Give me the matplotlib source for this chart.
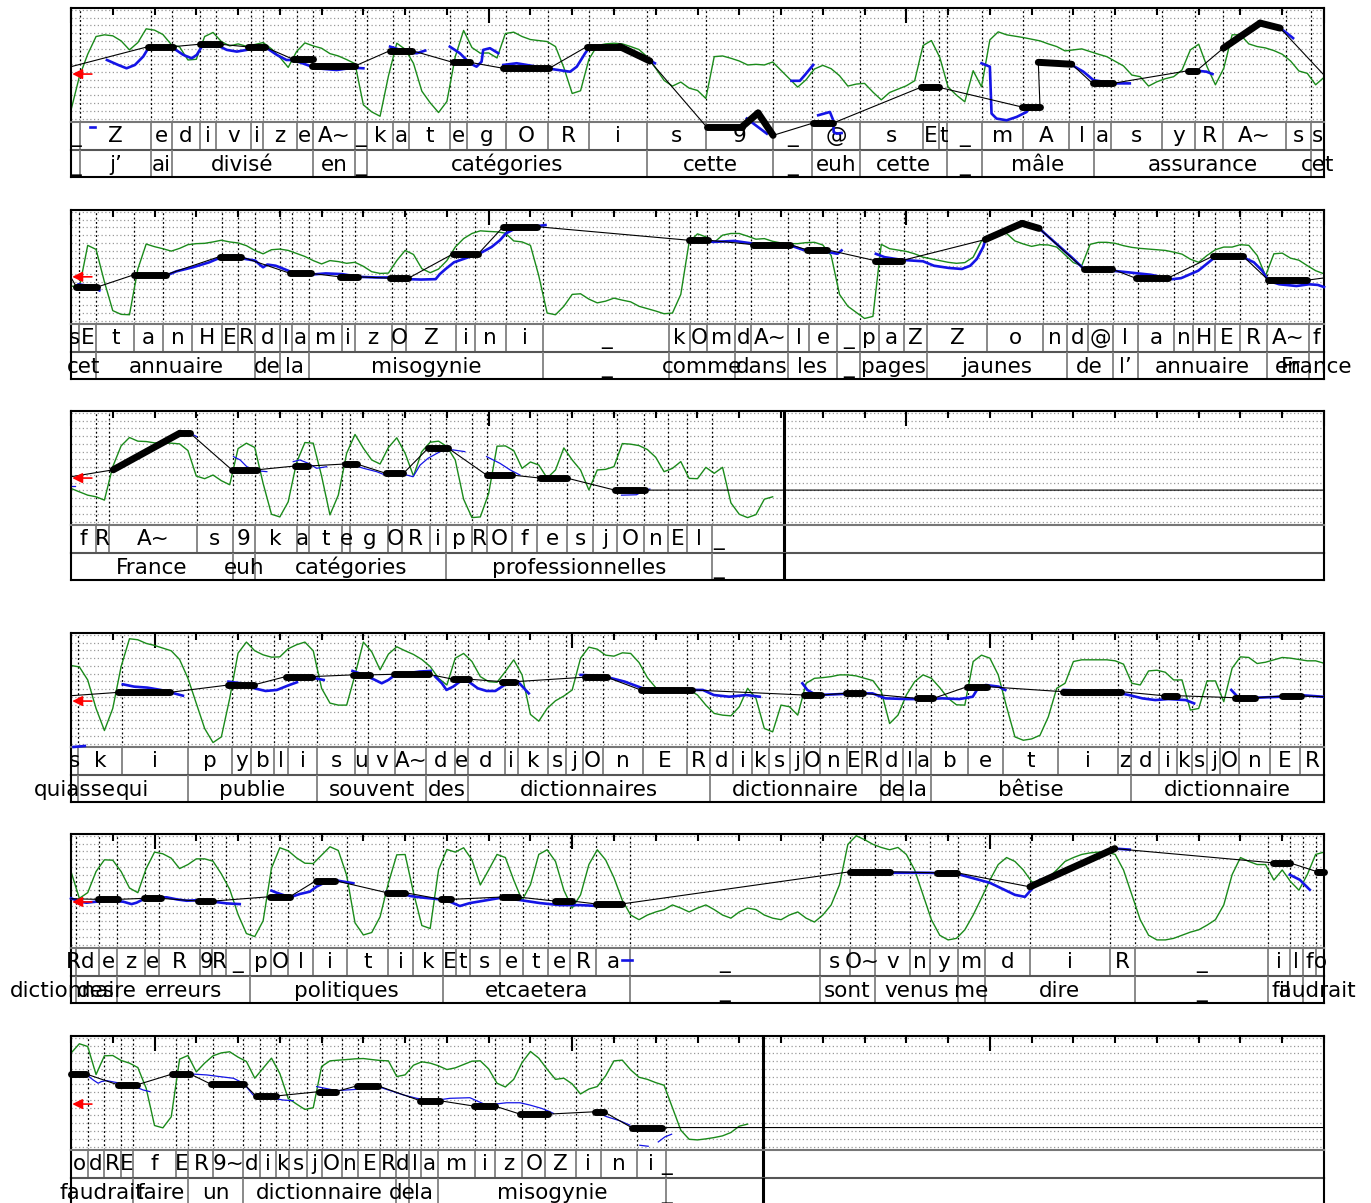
import numpy as np
import matplotlib
matplotlib.use("Agg")
import matplotlib.pyplot as plt
from matplotlib.ticker import MultipleLocator

plt.rcParams['font.family'] = ['DejaVu Sans']

# each line of the display covers 3 s; times below are seconds from the line start
line_start = [0.0, 3.0, 6.0, 7.8, 10.8, 13.8]
line_end = [3.0, 3.0, 1.707, 3.0, 3.0, 1.657]
arrow_level = [5.73, 5.63, 5.60, 5.47, 5.49, 5.47]
frame_step = 0.02   # intensity frames

# ---------------- line 1 ----------------
p1_phone_t = [0, 0.022, 0.191, 0.241, 0.309, 0.347, 0.430, 0.459, 0.540, 0.580, 0.680, 0.708, 0.772, 0.810,
              0.907, 0.949, 1.041, 1.141, 1.240, 1.380, 1.520, 1.680, 1.775, 1.889, 2.040, 2.079, 2.098, 2.180,
              2.280, 2.390, 2.450, 2.489, 2.611, 2.691, 2.759, 2.909, 2.970, 3.0]
p1_phone = ["_", "Z", "e", "d", "i", "v", "i", "z", "e", "A~", "_", "k", "a", "t", "e", "g", "O", "R", "i", "s",
            "9", "_", "@", "s", "E", "t", "_", "m", "A", "l", "a", "s", "y", "R", "A~", "s", "s"]
p1_word_t = [0, 0.022, 0.191, 0.241, 0.580, 0.680, 0.708, 1.380, 1.680, 1.775, 1.889, 2.098, 2.180, 2.450, 2.970, 3.0]
p1_word = ["_", "j’", "ai", "divisé", "en", "_", "catégories", "cette", "_", "euh", "cette", "_", "mâle",
           "assurance", "cet"]
p1_seg = [(0.185, 0.245, 9.26, 9.26), (0.309, 0.357, 9.57, 9.57), (0.424, 0.464, 9.22, 9.22),
          (0.532, 0.580, 7.63, 7.63), (0.576, 0.680, 6.77, 6.77), (0.764, 0.816, 8.75, 8.75),
          (0.914, 0.955, 7.24, 7.24), (1.035, 1.145, 6.47, 6.47), (1.235, 1.314, 9.26, 9.26),
          (1.314, 1.386, 9.26, 7.41), (1.522, 1.606, -1.09, -1.09), (1.606, 1.645, -1.09, 0.72),
          (1.645, 1.681, 0.72, -2.16), (1.777, 1.825, -0.57, -0.57), (2.034, 2.079, 4.01, 4.01),
          (2.276, 2.320, 1.50, 1.50), (2.316, 2.396, 7.24, 6.99), (2.446, 2.494, 4.53, 4.53),
          (2.675, 2.695, 6.16, 6.16), (2.759, 2.847, 9.06, 12.29), (2.847, 2.895, 12.29, 11.64)]
p1_ends = (6.68, 5.60)
p1_blue = [
    [(0.045, -1.09), (0.057, -1.09)],
    [(0.086, 7.54), (0.113, 6.90), (0.133, 6.47), (0.153, 6.90), (0.173, 7.99), (0.185, 9.06), (0.245, 9.06),
     (0.269, 8.19), (0.289, 7.76), (0.301, 8.19), (0.313, 9.26), (0.357, 9.26), (0.373, 8.84), (0.397, 8.62),
     (0.421, 8.84), (0.445, 9.26), (0.469, 9.06), (0.493, 8.19), (0.516, 7.54), (0.532, 7.54), (0.588, 6.47),
     (0.636, 6.25), (0.676, 6.55), (0.700, 6.47)],
    [(0.764, 9.26), (0.788, 8.84), (0.812, 8.49), (0.828, 8.41), (0.848, 8.75)],
    [(0.907, 9.26), (0.931, 8.41), (0.955, 7.12), (0.971, 6.68), (0.983, 7.32), (0.987, 8.84), (1.003, 9.06),
     (1.023, 8.41)],
    [(1.035, 6.90), (1.067, 7.12), (1.139, 6.47), (1.167, 6.25), (1.195, 6.03), (1.211, 6.68), (1.231, 8.41),
     (1.238, 8.93), (1.314, 9.26), (1.370, 7.99), (1.398, 7.12)],
    [(1.618, 0.0), (1.666, -1.94)],
    [(1.725, 4.86), (1.745, 4.86), (1.757, 5.60), (1.777, 6.90)],
    [(1.789, 0.43), (1.817, 0.85), (1.825, -0.22), (1.826, -1.73), (1.833, -1.94), (1.845, -1.86)],
    [(2.180, 7.12), (2.200, 6.68), (2.204, 0.65), (2.216, 0.0), (2.240, -0.22), (2.264, 0.21), (2.288, 0.85),
     (2.292, 1.29)],
    [(2.396, 6.90), (2.424, 6.03), (2.448, 4.95), (2.495, 4.53), (2.535, 4.53)],
    [(2.695, 6.16), (2.719, 6.03), (2.733, 5.73)],
    [(2.759, 9.06), (2.847, 12.29), (2.895, 11.64), (2.911, 11.00), (2.926, 10.35)],
]
p1_int = [1.08, 5.39, 8.28, 10.56, 10.78, 10.65, 10.0, 8.84, 9.78, 11.55, 11.38, 10.82, 9.53, 9.22, 7.54, 7.63,
          10.56, 11.08, 9.91, 9.35, 9.61, 9.31, 9.53, 9.78, 8.97, 7.89, 6.59, 8.62, 9.74, 9.35, 9.05, 8.36, 8.06,
          7.59, 7.07, 1.77, 0.86, 0.30, 5.47, 9.7, 8.92, 7.11, 3.53, 2.03, 0.78, 2.2, 7.97, 11.34, 9.14, 8.41,
          8.45, 7.8, 10.95, 11.12, 10.56, 10.17, 10.04, 9.91, 9.27, 6.55, 3.23, 3.58, 7.63, 9.4, 9.61, 9.7, 9.61,
          9.27, 8.88, 7.93, 6.47, 4.91, 4.18, 4.7, 3.92, 3.62, 2.59, 7.97, 8.06, 7.76, 7.41, 6.9, 6.98, 6.9, 7.28,
          6.21, 5.13, 4.05, 5.0, 6.38, 6.85, 6.42, 5.52, 4.18, 4.44, 4.53, 3.41, 2.41, 3.36, 3.79, 4.22, 4.87,
          9.4, 10.04, 7.89, 4.05, 3.02, 2.16, 6.16, 4.09, 10.13, 11.16, 10.78, 10.6, 10.43, 10.22, 10.0, 9.61,
          9.27, 8.71, 8.84, 8.97, 8.62, 8.28, 7.97, 7.37, 6.77, 5.6, 5.39, 4.18, 4.74, 5.13, 5.39, 6.25, 8.84,
          9.57, 6.68, 4.35, 6.47, 10.78, 10.78, 9.61, 9.27, 9.09, 8.75, 8.28, 7.41, 6.12, 5.82, 4.35, 5.3]

# ---------------- line 2 ----------------
p2_phone_t = [0, 0.018, 0.061, 0.151, 0.220, 0.290, 0.361, 0.401, 0.441, 0.500, 0.530, 0.570, 0.649, 0.679,
              0.768, 0.803, 0.922, 0.967, 1.041, 1.131, 1.432, 1.483, 1.523, 1.590, 1.629, 1.717, 1.768, 1.833,
              1.888, 1.935, 1.994, 2.050, 2.194, 2.328, 2.384, 2.436, 2.494, 2.554, 2.641, 2.687, 2.738, 2.798,
              2.864, 2.964, 3.0]
p2_phone = ["s", "E", "t", "a", "n", "H", "E", "R", "d", "l", "a", "m", "i", "z", "O", "Z", "i", "n", "i", "_",
            "k", "O", "m", "d", "A~", "l", "e", "_", "p", "a", "Z", "Z", "o", "n", "d", "@", "l", "a", "n", "H",
            "E", "R", "A~", "f"]
p2_word_t = [0, 0.061, 0.441, 0.500, 0.570, 1.131, 1.432, 1.590, 1.717, 1.833, 1.888, 2.050, 2.384, 2.494,
             2.554, 2.864, 2.964, 3.0]
p2_word = ["cet", "annuaire", "de", "la", "misogynie", "_", "comme", "dans", "les", "_", "pages", "jaunes", "de",
           "l’", "annuaire", "en", "France"]
p2_seg = [(0.013, 0.063, 4.32, 4.32), (0.151, 0.227, 5.90, 5.90), (0.356, 0.406, 8.24, 8.24),
          (0.525, 0.575, 6.07, 6.07), (0.644, 0.687, 5.63, 5.63), (0.763, 0.808, 5.46, 5.46),
          (0.915, 0.975, 8.59, 8.59), (1.035, 1.116, 12.08, 12.08), (1.479, 1.526, 10.34, 10.34),
          (1.634, 1.722, 9.77, 9.77), (1.761, 1.809, 9.12, 9.12), (1.925, 1.989, 7.72, 7.72),
          (2.189, 2.277, 10.43, 12.51), (2.277, 2.318, 12.51, 11.86), (2.425, 2.492, 6.64, 6.64),
          (2.549, 2.626, 5.46, 5.46), (2.734, 2.806, 8.29, 8.29), (2.867, 2.960, 5.20, 5.20)]
p2_ends = (5.55, 5.49)
p2_blue = [
    [(0.018, 4.67), (0.043, 4.45), (0.068, 3.89)],
    [(0.227, 5.76), (0.252, 6.33), (0.292, 6.86), (0.331, 7.50), (0.356, 8.07), (0.391, 8.37), (0.416, 7.94),
     (0.441, 7.72), (0.455, 7.06), (0.460, 6.86), (0.470, 7.21), (0.490, 7.06), (0.510, 6.64), (0.530, 6.20),
     (0.570, 5.90), (0.610, 6.07), (0.649, 5.98), (0.689, 5.63), (0.729, 5.55), (0.768, 5.55), (0.808, 5.33),
     (0.838, 5.28), (0.873, 5.33), (0.883, 5.98), (0.897, 6.64), (0.917, 7.50), (0.952, 8.16), (0.977, 8.59),
     (1.007, 9.47), (1.027, 10.34), (1.041, 11.20), (1.056, 11.64), (1.076, 12.08), (1.116, 12.16),
     (1.136, 12.29)],
    [(1.506, 10.43), (1.537, 10.12), (1.588, 10.25), (1.634, 9.90), (1.722, 9.68), (1.752, 9.12), (1.814, 8.81),
     (1.835, 8.59), (1.845, 9.03)],
    [(1.927, 8.59), (1.948, 8.16), (1.989, 7.81), (2.040, 7.63), (2.066, 7.06), (2.102, 6.77), (2.133, 6.64),
     (2.153, 7.06), (2.169, 7.94), (2.184, 9.47), (2.189, 10.34)],
    [(2.318, 11.86), (2.359, 9.90), (2.400, 7.94), (2.425, 6.64), (2.492, 6.42), (2.533, 6.20), (2.585, 5.90),
     (2.637, 5.33), (2.658, 5.46), (2.699, 6.42), (2.734, 7.94), (2.806, 8.16), (2.832, 7.50), (2.852, 6.42),
     (2.867, 5.11), (2.893, 4.67), (2.934, 4.45), (2.964, 4.67), (2.985, 4.59), (3.0, 4.32)],
]
p2_int = [4.46, 4.24, 9.68, 9.16, 4.98, 1.28, 0.8, 0.75, 6.63, 9.85, 9.51, 9.25, 8.94, 9.29, 9.77, 9.9, 9.94,
          10.12, 10.34, 10.12, 9.99, 9.64, 9.03, 8.59, 9.12, 9.2, 9.03, 8.64, 8.25, 7.72, 7.29, 7.72, 7.59, 7.37,
          7.5, 6.98, 6.29, 6.07, 6.11, 7.72, 9.03, 8.51, 6.68, 6.16, 6.63, 7.72, 9.46, 10.55, 11.21, 11.55, 11.47,
          11.42, 11.25, 10.25, 10.12, 9.68, 5.76, 0.97, 0.75, 1.84, 3.37, 3.45, 2.76, 2.28, 2.5, 2.89, 2.63, 2.41,
          1.84, 1.54, 1.23, 0.88, 0.97, 3.37, 10.12, 11.16, 10.77, 10.07, 10.99, 11.21, 11.21, 10.86, 10.47,
          10.55, 10.2, 9.99, 9.9, 9.9, 10.03, 10.07, 9.73, 8.38, 3.37, 1.84, 1.06, 0.27, 0.54, 9.81, 9.25, 9.07,
          8.9, 8.59, 8.16, 7.94, 7.72, 7.5, 7.37, 7.46, 8.16, 10.25, 10.9, 11.25, 11.21, 10.25, 9.86, 9.55, 9.77,
          9.73, 9.46, 8.46, 7.46, 7.07, 9.81, 10.07, 10.07, 9.94, 9.64, 9.42, 9.29, 9.2, 9.12, 9.03, 8.81, 8.55,
          7.9, 7.5, 8.38, 9.12, 9.46, 9.46, 9.77, 9.68, 8.38, 5.76, 8.59, 8.68, 8.03, 7.77, 7.07, 6.42, 6.02]

# ---------------- line 3 ----------------
p3_phone_t = [0, 0.059, 0.092, 0.301, 0.388, 0.440, 0.540, 0.570, 0.650, 0.669, 0.760, 0.792, 0.859, 0.899,
              0.959, 0.995, 1.055, 1.116, 1.188, 1.250, 1.308, 1.372, 1.430, 1.474, 1.534, 1.566]
p3_phone = ["f", "R", "A~", "s", "9", "k", "a", "t", "e", "g", "O", "R", "i", "p", "R", "O", "f", "e", "s", "j",
            "O", "n", "E", "l", "_"]
p3_word_t = [0, 0.388, 0.440, 0.899, 1.534, 1.566]
p3_word = ["France", "euh", "catégories", "professionnelles", "_"]
p3_seg = [(0.101, 0.261, 6.66, 11.38), (0.261, 0.285, 11.38, 11.38), (0.385, 0.445, 6.66, 6.66),
          (0.536, 0.568, 7.15, 7.15), (0.656, 0.684, 7.41, 7.41), (0.754, 0.796, 6.21, 6.21),
          (0.855, 0.903, 9.44, 9.44), (0.995, 1.055, 5.99, 5.99), (1.123, 1.187, 5.60, 5.60),
          (1.302, 1.374, 4.05, 4.05)]
p3_ends = (5.77, 4.05)
p3_blue = [
    [(0.002, 4.57), (0.010, 4.57)],
    [(0.285, 11.38), (0.301, 10.94)],
    [(0.389, 8.36), (0.405, 7.93), (0.421, 7.06), (0.445, 6.55), (0.469, 6.42)],
    [(0.532, 7.71), (0.548, 7.93), (0.568, 7.50), (0.588, 6.86), (0.612, 7.06)],
    [(0.676, 7.28), (0.700, 6.86), (0.732, 6.42), (0.752, 5.99), (0.772, 5.99), (0.804, 5.99), (0.819, 5.77),
     (0.836, 7.28), (0.855, 8.15), (0.891, 9.22), (0.915, 9.22), (0.943, 9.00)],
    [(0.995, 8.36), (1.027, 7.50), (1.051, 6.66), (1.075, 5.99)],
    [(1.318, 3.40), (1.354, 3.45), (1.374, 4.05), (1.386, 4.18)],
]
p3_int = [4.26, 3.83, 3.4, 3.19, 2.76, 7.07, 9.74, 10.82, 10.35, 10.3, 10.13, 10.09, 10.09, 10.0, 9.14, 5.86,
          5.52, 5.99, 5.26, 4.74, 9.39, 10.09, 9.53, 4.91, 0.94, 0.6, 2.54, 7.59, 10.17, 10.09, 5.86, 0.86, 3.4,
          8.79, 11.21, 9.44, 7.93, 7.41, 9.53, 10.78, 8.79, 5.86, 9.01, 10.21, 10.35, 9.66, 7.93, 2.88, 0.51, 0.6,
          3.62, 9.7, 9.74, 9.14, 6.85, 7.67, 7.28, 5.6, 6.64, 9.48, 7.93, 6.64, 4.06, 6.64, 6.72, 7.07, 10.04,
          9.96, 9.78, 9.27, 8.27, 6.42, 6.85, 7.72, 5.56, 5.52, 6.98, 6.21, 6.98, 2.41, 0.94, 0.51, 0.9, 2.88,
          3.19]

# ---------------- line 4 ----------------
p4_phone_t = [0, 0.017, 0.121, 0.279, 0.386, 0.431, 0.487, 0.520, 0.589, 0.680, 0.710, 0.776, 0.851, 0.920,
              0.950, 1.038, 1.070, 1.142, 1.185, 1.225, 1.273, 1.369, 1.476, 1.529, 1.586, 1.631, 1.671, 1.721,
              1.755, 1.794, 1.857, 1.893, 1.940, 1.992, 2.023, 2.060, 2.148, 2.231, 2.362, 2.507, 2.538, 2.606,
              2.648, 2.684, 2.721, 2.752, 2.796, 2.871, 2.942, 3.0]
p4_phone = ["s", "k", "i", "p", "y", "b", "l", "i", "s", "u", "v", "A~", "d", "e", "d", "i", "k", "s", "j", "O",
            "n", "E", "R", "d", "i", "k", "s", "j", "O", "n", "E", "R", "d", "l", "a", "b", "e", "t", "i", "z",
            "d", "i", "k", "s", "j", "O", "n", "E", "R"]
p4_word_t = [0, 0.017, 0.279, 0.589, 0.851, 0.950, 1.529, 1.940, 1.992, 2.060, 2.538, 3.0]
p4_word = ["quiasse", "qui", "publie", "souvent", "des", "dictionnaires", "dictionnaire", "de", "la", "bêtise",
           "dictionnaire"]
p4_seg = [(0.113, 0.236, 6.59, 6.59), (0.377, 0.437, 7.54, 7.54), (0.514, 0.578, 8.62, 8.62),
          (0.674, 0.715, 8.84, 8.84), (0.773, 0.856, 8.92, 8.92), (0.915, 0.954, 8.28, 8.28),
          (1.032, 1.064, 7.97, 7.97), (1.230, 1.283, 8.54, 8.54), (1.364, 1.487, 6.90, 6.90),
          (1.755, 1.796, 6.25, 6.25), (1.855, 1.896, 6.47, 6.47), (2.025, 2.065, 5.82, 5.82),
          (2.146, 2.192, 7.33, 7.33), (2.375, 2.514, 6.68, 6.68), (2.616, 2.648, 6.16, 6.16),
          (2.788, 2.835, 5.90, 5.90), (2.900, 2.944, 6.12, 6.12)]
p4_ends = (6.16, 6.03)
p4_blue = [
    [(0.006, -0.44), (0.033, -0.31)],
    [(0.124, 7.63), (0.151, 7.33), (0.183, 7.20), (0.215, 6.90), (0.247, 6.46), (0.268, 6.16)],
    [(0.377, 7.97), (0.407, 7.76), (0.439, 7.11), (0.466, 6.77), (0.493, 6.90), (0.519, 7.46), (0.541, 7.89)],
    [(0.583, 8.41), (0.605, 8.19)],
    [(0.674, 9.35), (0.701, 8.84), (0.728, 8.19), (0.744, 7.76), (0.760, 8.19), (0.776, 8.84), (0.835, 9.27),
     (0.861, 9.35)],
    [(0.872, 8.62), (0.888, 7.76), (0.899, 6.90), (0.915, 7.33), (0.931, 7.97), (0.952, 7.97), (0.974, 7.11),
     (0.995, 6.77), (1.016, 6.77), (1.038, 7.54), (1.070, 7.97), (1.096, 6.46)],
    [(1.220, 8.84), (1.252, 8.75), (1.294, 8.41), (1.326, 7.97), (1.369, 7.11), (1.433, 6.90), (1.482, 6.90),
     (1.513, 6.90), (1.539, 6.25), (1.576, 6.03), (1.617, 6.25), (1.649, 6.03)],
    [(1.751, 7.76), (1.763, 6.90), (1.784, 6.25), (1.826, 6.33), (1.877, 6.46), (1.919, 6.46), (1.950, 5.82),
     (2.002, 5.73), (2.044, 5.73), (2.086, 5.82), (2.127, 5.73), (2.159, 6.03), (2.169, 6.90), (2.190, 7.54),
     (2.221, 7.33), (2.237, 6.90)],
    [(2.377, 6.90), (2.440, 6.77), (2.512, 6.46), (2.533, 6.25), (2.565, 5.82), (2.596, 5.60), (2.627, 5.73),
     (2.669, 5.60), (2.689, 5.17)],
    [(2.778, 6.90), (2.793, 6.03), (2.835, 5.90), (2.897, 6.03), (2.939, 6.25), (2.997, 6.03)],
]
p4_int = [10.04, 9.87, 8.19, 4.52, 1.68, 4.52, 9.91, 13.49, 13.36, 12.89, 12.63, 12.28, 11.94, 10.82, 8.4, 5.17,
          1.94, 0.13, 0.86, 5.82, 11.64, 13.06, 11.94, 11.42, 11.12, 11.16, 12.2, 12.72, 13.06, 11.94, 7.11, 5.21,
          4.95, 4.95, 8.84, 13.06, 11.81, 9.49, 11.51, 12.46, 11.94, 11.47, 10.82, 9.91, 8.4, 7.54, 10.99, 11.6,
          10.56, 8.62, 7.97, 7.89, 9.27, 10.78, 8.84, 3.75, 2.88, 4.52, 5.51, 6.12, 6.9, 10.99, 12.41, 12.15,
          11.38, 11.25, 11.68, 11.6, 10.43, 8.49, 7.2, 6.9, 6.9, 6.9, 6.9, 6.25, 4.95, 3.88, 3.66, 3.57, 4.74,
          7.11, 5.82, 1.94, 1.51, 4.95, 4.74, 3.66, 7.76, 8.4, 8.49, 8.62, 8.84, 8.84, 8.71, 8.4, 8.1, 6.68, 2.58,
          3.66, 6.25, 7.97, 8.84, 8.4, 7.2, 5.82, 4.99, 4.95, 10.56, 11.38, 10.99, 8.84, 4.74, 0.86, 0.43, 0.6,
          1.07, 3.45, 7.11, 7.76, 10.56, 10.78, 10.78, 10.78, 10.78, 10.65, 10.22, 7.76, 7.54, 9.35, 9.44, 9.18,
          8.19, 8.19, 4.31, 4.52, 8.06, 8.06, 5.39, 9.7, 11.16, 11.08, 10.3, 10.47, 10.78, 11.08, 10.99, 10.82,
          10.65, 10.65, 10.34]

# ---------------- line 5 ----------------
p5_phone_t = [0, 0.012, 0.068, 0.109, 0.177, 0.211, 0.309, 0.338, 0.371, 0.428, 0.480, 0.520, 0.580, 0.660,
              0.760, 0.820, 0.890, 0.922, 0.955, 1.027, 1.082, 1.142, 1.195, 1.257, 1.338, 1.793, 1.865, 1.925,
              2.009, 2.057, 2.124, 2.188, 2.296, 2.487, 2.547, 2.866, 2.918, 2.949, 2.981, 3.0]
p5_phone = ["R", "d", "e", "z", "e", "R", "9", "R", "_", "p", "O", "l", "i", "t", "i", "k", "E", "t", "s", "e",
            "t", "e", "R", "a", "_", "s", "O~", "v", "n", "y", "m", "d", "i", "R", "_", "i", "l", "f", "o"]
p5_word_t = [0, 0.012, 0.109, 0.428, 0.890, 1.338, 1.793, 1.925, 2.124, 2.188, 2.547, 2.866, 2.949, 3.0]
p5_word = ["dictionnaire", "des", "erreurs", "politiques", "etcaetera", "_", "sont", "venus", "me", "dire", "_",
           "il", "faudrait"]
p5_seg = [(0.065, 0.113, 5.82, 5.82), (0.175, 0.215, 5.95, 5.95), (0.305, 0.341, 5.60, 5.60),
          (0.476, 0.524, 6.16, 6.16), (0.587, 0.632, 8.23, 8.23), (0.756, 0.800, 6.68, 6.68),
          (0.887, 0.911, 5.82, 5.82), (1.032, 1.070, 6.12, 6.12), (1.159, 1.200, 5.60, 5.60),
          (1.257, 1.319, 5.23, 5.23), (1.865, 1.961, 9.37, 9.37), (2.073, 2.121, 9.24, 9.24),
          (2.296, 2.499, 7.43, 12.35), (2.878, 2.918, 10.52, 10.52), (2.984, 3.0, 9.37, 9.37)]
p5_ends = (5.90, 9.37)
p5_blue = [
    [(0.0, 5.95), (0.022, 5.52), (0.037, 5.39), (0.061, 5.52), (0.093, 5.64), (0.125, 5.52), (0.145, 5.21),
     (0.157, 5.39), (0.173, 5.82), (0.205, 6.08), (0.229, 6.08), (0.253, 5.82), (0.277, 5.64), (0.309, 5.73),
     (0.341, 5.52), (0.373, 5.30), (0.404, 5.21)],
    [(0.480, 6.94), (0.492, 6.68), (0.524, 6.08), (0.548, 6.51), (0.572, 6.81), (0.588, 7.46), (0.604, 7.89),
     (0.628, 8.32), (0.652, 8.10), (0.676, 7.89)],
    [(0.756, 6.81), (0.788, 6.68), (0.812, 6.25), (0.836, 6.08), (0.860, 5.95), (0.883, 5.82), (0.907, 5.52),
     (0.931, 4.96), (0.955, 5.34), (1.027, 6.0), (1.075, 5.73), (1.123, 5.34), (1.171, 5.08), (1.219, 5.08),
     (1.267, 4.95), (1.314, 5.08)],
    [(1.319, -2.03), (1.343, -2.03)],
    [(1.865, 9.37), (1.961, 9.24), (2.057, 9.24), (2.129, 8.99), (2.200, 7.95), (2.260, 6.40), (2.284, 6.14),
     (2.320, 8.32)],
    [(2.499, 12.35), (2.535, 12.22)],
    [(2.918, 8.99), (2.942, 8.34), (2.966, 7.05)],
]
p5_int = [9.4, 5.95, 6.68, 9.4, 10.91, 10.86, 9.4, 7.28, 6.68, 9.78, 11.9, 11.68, 11.12, 9.78, 10.3, 11.03,
          11.03, 10.73, 9.09, 7.11, 3.88, 1.42, 1.03, 3.06, 9.83, 12.46, 12.07, 11.16, 10.47, 10.43, 11.51, 12.59,
          12.11, 8.92, 2.8, 1.24, 1.55, 3.57, 7.93, 11.55, 11.59, 6.68, 2.45, 2.07, 9.62, 12.24, 11.9, 12.46,
          10.9, 7.67, 9.6, 11.6, 11.2, 8.3, 5.7, 7.7, 11.6, 12.2, 10.7, 7.0, 4.7, 6.4, 10.3, 12.2, 10.9, 8.6, 5.7,
          3.8, 3.2, 3.8, 4.2, 4.5, 5.1, 4.7, 4.2, 4.7, 5.1, 4.5, 3.8, 3.4, 4.2, 4.7, 4.5, 3.8, 3.4, 3.2, 3.8, 4.2,
          3.4, 2.9, 3.8, 5.1, 7.7, 12.9, 14.0, 13.5, 12.9, 12.5, 12.2, 12.5, 11.6, 9.6, 6.4, 3.2, 1.2, 0.6, 0.8,
          1.9, 3.8, 6.0, 8.3, 10.3, 11.2, 10.7, 9.6, 8.1, 7.7, 8.6, 9.6, 10.7, 11.2, 11.6, 11.8, 11.9, 11.9, 11.6,
          9.6, 6.4, 3.2, 1.2, 0.6, 0.6, 0.8, 1.2, 1.6, 1.9, 2.5, 3.2, 5.1, 9.0, 11.2, 10.7, 10.3, 10.3, 8.3, 9.6,
          8.1, 7.0, 9.0, 11.6, 11.9]

# ---------------- line 6 ----------------
p6_phone_t = [0, 0.040, 0.080, 0.120, 0.149, 0.251, 0.281, 0.341, 0.411, 0.452, 0.491, 0.523, 0.564, 0.600,
              0.648, 0.688, 0.740, 0.778, 0.809, 0.838, 0.879, 0.967, 1.015, 1.080, 1.136, 1.208, 1.269, 1.354,
              1.424, 1.429]
p6_phone = ["o", "d", "R", "E", "f", "E", "R", "9~", "d", "i", "k", "s", "j", "O", "n", "E", "R", "d", "l", "a",
            "m", "i", "z", "O", "Z", "i", "n", "i", "_"]
p6_word_t = [0, 0.149, 0.281, 0.411, 0.778, 0.809, 0.879, 1.424, 1.429]
p6_word = ["faudrait", "faire", "un", "dictionnaire", "de", "la", "misogynie", "_"]
p6_seg = [(0.001, 0.036, 9.35, 9.35), (0.113, 0.157, 7.93, 7.93), (0.243, 0.285, 9.35, 9.35),
          (0.334, 0.414, 8.06, 8.06), (0.443, 0.491, 6.51, 6.51), (0.594, 0.634, 7.07, 7.07),
          (0.684, 0.736, 7.80, 7.80), (0.836, 0.883, 5.90, 5.90), (0.965, 1.015, 5.21, 5.21),
          (1.075, 1.143, 4.18, 4.18), (1.254, 1.276, 4.48, 4.48), (1.342, 1.414, 2.45, 2.45)]
p6_ends = (9.35, 2.45)
p6_blue = [
    [(0.038, 9.22), (0.053, 8.58), (0.065, 8.15), (0.073, 8.37), (0.085, 8.49), (0.109, 8.24), (0.133, 7.93),
     (0.157, 7.63), (0.173, 7.28), (0.189, 7.07)],
    [(0.285, 9.35), (0.325, 9.22), (0.357, 9.00), (0.389, 8.79), (0.413, 8.15), (0.436, 6.64), (0.452, 6.42),
     (0.484, 6.21), (0.508, 5.99), (0.532, 5.90)],
    [(0.588, 7.72), (0.636, 7.20), (0.684, 7.37), (0.740, 7.63), (0.772, 7.07), (0.796, 6.64), (0.828, 6.21),
     (0.867, 5.90), (0.907, 6.21), (0.955, 6.29), (0.971, 5.90), (0.995, 5.34), (1.043, 5.64), (1.075, 5.64),
     (1.099, 5.34), (1.127, 4.91), (1.147, 4.48), (1.155, 4.27)],
    [(1.254, 4.48), (1.283, 3.84), (1.314, 3.32), (1.338, 2.76)],
    [(1.362, 0.17), (1.382, 0.04)],
    [(1.406, 0.60), (1.422, 1.25), (1.438, 1.59)],
]
p6_int = [12.03, 13.23, 12.88, 9.27, 11.68, 11.72, 11.08, 10.74, 10.17, 7.5, 2.71, 2.41, 3.83, 11.25, 11.72,
          9.61, 10.74, 11.68, 12.06, 12.2, 11.51, 10.95, 8.8, 10.09, 11.38, 9.4, 6.2, 5.47, 4.78, 5.0, 10.31,
          11.03, 11.12, 11.2, 11.29, 11.33, 11.2, 11.08, 11.03, 9.01, 9.23, 10.47, 10.91, 10.74, 10.39, 9.91,
          10.13, 10.56, 10.99, 11.03, 9.99, 8.15, 7.67, 8.65, 10.82, 12.24, 11.38, 9.95, 8.65, 8.8, 8.06, 6.77,
          7.41, 7.72, 9.1, 11.03, 11.12, 9.87, 8.92, 8.65, 8.23, 7.89, 5.0, 2.11, 0.94, 0.86, 0.99, 1.16, 1.38,
          1.81, 2.63, 2.89]

lines = [
    (p1_phone_t, p1_phone, p1_word_t, p1_word, p1_seg, p1_ends, p1_blue, p1_int),
    (p2_phone_t, p2_phone, p2_word_t, p2_word, p2_seg, p2_ends, p2_blue, p2_int),
    (p3_phone_t, p3_phone, p3_word_t, p3_word, p3_seg, p3_ends, p3_blue, p3_int),
    (p4_phone_t, p4_phone, p4_word_t, p4_word, p4_seg, p4_ends, p4_blue, p4_int),
    (p5_phone_t, p5_phone, p5_word_t, p5_word, p5_seg, p5_ends, p5_blue, p5_int),
    (p6_phone_t, p6_phone, p6_word_t, p6_word, p6_seg, p6_ends, p6_blue, p6_int),
]

# ---------------- drawing ----------------
W, H = 1371, 1203
fig = plt.figure(figsize=(W / 100, H / 100), dpi=100)


def box(x, y, w, h):
    return [x / W, 1 - (y + h) / H, w / W, h / H]


tops = [8, 210, 411, 633, 834, 1036]
blue_width = [1.9, 1.9, 0.9, 1.9, 1.9, 0.9]
GREEN = '#1a8a1a'
BLUE = '#1414e6'
TIER_GREY = '#808080'


def tier(axis, edges, labels, t0, base):
    for t in edges[1:-1]:
        axis.axvline(t0 + t, color=TIER_GREY, lw=1.3)
    for a, b, lab in zip(edges[:-1], edges[1:], labels):
        axis.text(t0 + (a + b) / 2, base, lab, ha='center', va='baseline', fontsize=15.5)


for i, (phone_t, phones, word_t, words, segs, ends, blue, inten) in enumerate(lines):
    t0 = line_start[i]
    top = tops[i]
    ax = fig.add_axes(box(71, top, 1253, 114))
    ph = fig.add_axes(box(71, top + 114, 1253, 28))
    wd = fig.add_axes(box(71, top + 142, 1253, 27))
    ax.set_zorder(3)
    for a in (ph, wd):
        a.patch.set_alpha(0)
        a.set_ylim(0, 1)
        a.set_xticks([])
        a.spines['top'].set_visible(False)
    for a in (ax, ph, wd):
        a.set_xlim(t0, t0 + 3)
        a.set_yticks([])
        for s in a.spines.values():
            s.set_linewidth(1.5)
    ph.spines['bottom'].set_color('#555555')
    ax.spines['bottom'].set_color('#777777')

    ax.set_ylim(-0.44, 14.23)
    ax.xaxis.set_major_locator(MultipleLocator(1))
    ax.xaxis.set_minor_locator(MultipleLocator(0.1))
    ax.tick_params(axis='x', which='both', top=True, bottom=False, labeltop=False, labelbottom=False,
                   direction='in', width=1.5)
    ax.tick_params(axis='x', which='major', length=11)
    ax.tick_params(axis='x', which='minor', length=5)

    # grid: semitone lines and phone boundaries
    for y in range(15):
        ax.axhline(y, color='#9a9a9a', lw=0.9, ls=(0, (1, 2)), zorder=0)
    for t in phone_t[1:-1]:
        ax.axvline(t0 + t, color='black', lw=0.9, ls=(0, (1.5, 2)), zorder=1)

    # intensity
    ft = t0 + frame_step * np.arange(len(inten))
    ax.plot(ft, inten, color=GREEN, lw=1.0, zorder=2)

    # raw f0
    for piece in blue:
        ts, vs = zip(*piece)
        ax.plot(t0 + np.array(ts), vs, color=BLUE, lw=blue_width[i], zorder=3, clip_on=False)

    # stylisation: thin chain + thick segments
    ct = [0.0]
    cv = [ends[0]]
    for s0, s1, v0, v1 in segs:
        ct += [s0, s1]
        cv += [v0, v1]
    ct.append(3.0)
    cv.append(ends[1])
    ax.plot(t0 + np.array(ct), cv, color='black', lw=0.8, zorder=4, clip_on=False)
    for s0, s1, v0, v1 in segs:
        ax.plot([t0 + s0, t0 + s1], [v0, v1], color='black', lw=5, solid_capstyle='round',
                zorder=5, clip_on=False)

    ax.annotate('', xy=(t0 + 0.003, arrow_level[i]), xytext=(t0 + 0.05, arrow_level[i]),
                arrowprops=dict(arrowstyle='-|>', color='red', lw=1.2, mutation_scale=15,
                                shrinkA=0, shrinkB=0), zorder=6)

    tier(ph, phone_t, phones, t0, 0.30)
    tier(wd, word_t, words, t0, 0.24)

    if line_end[i] < 3.0:
        for a in (ax, ph, wd):
            a.axvline(t0 + line_end[i], color='black', lw=2.2)

fig.savefig("out.png", dpi=100)
